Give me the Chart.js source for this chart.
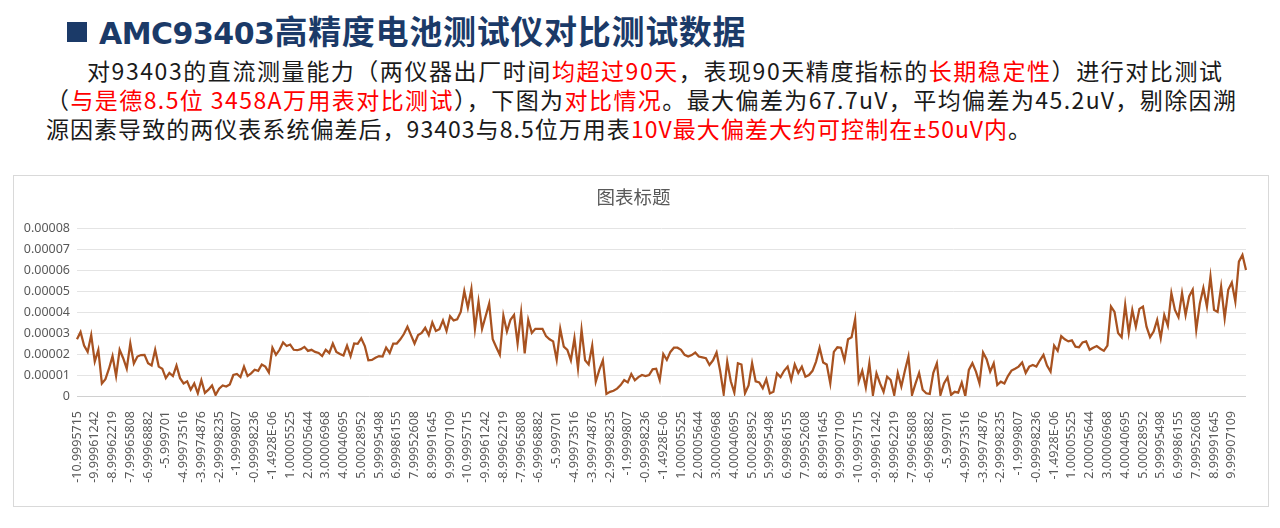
<!DOCTYPE html>
<html>
<head>
<meta charset="utf-8">
<script src="https://cdn.jsdelivr.net/npm/chart.js@4.4.1/dist/chart.umd.min.js"></script>
<style>
  html, body { margin: 0; padding: 0; background: #fff; }
  body { width: 1280px; height: 528px; position: relative; overflow: hidden; font-family: "Noto Sans CJK SC", sans-serif; }
  .bullet { position: absolute; left: 67px; top: 22px; width: 20px; height: 20px; background: #1b3a68; }
  .title { position: absolute; left: 99px; top: 10px; font-weight: bold; color: #1b3a68; line-height: 40px; height: 40px; white-space: nowrap; }
  .title .lat { font-family: "DejaVu Sans", sans-serif; font-size: 30px; letter-spacing: -0.5px; }
  .title .cjk { font-family: "Noto Sans CJK SC", sans-serif; font-size: 33px; letter-spacing: 0.7px; }
  .line { position: absolute; font-size: 23px; line-height: 29px; color: #1a1a1a; white-space: nowrap; }
  .red { color: #ff0000; }
  .pm { font-family: "Noto Sans", sans-serif; }
  #box { position: absolute; left: 13px; top: 175px; width: 1254px; height: 330px; border: 1px solid #d9d9d9; }
</style>
</head>
<body>
<div class="bullet"></div>
<div class="title"><span class="lat">AMC93403</span><span class="cjk">高精度电池测试仪对比测试数据</span></div>
<div class="line" id="l1" style="left:87px; top:56px" data-w="1135">对93403的直流测量能力（两仪器出厂时间<span class="red">均超过90天</span>，表现90天精度指标的<span class="red">长期稳定性</span>）进行对比测试</div>
<div class="line" id="l2" style="left:46px; top:85px" data-w="1190">（<span class="red">与是德8.5位 3458A万用表对比测试</span>），下图为<span class="red">对比情况</span>。最大偏差为67.7uV，平均偏差为45.2uV，剔除因溯</div>
<div class="line" id="l3" style="left:46px; top:114px" data-w="985">源因素导致的两仪表系统偏差后，93403与8.5位万用表<span class="red">10V最大偏差大约可控制在<span class="pm">±</span>50uV内</span>。</div>
<div id="box"><canvas id="chart" width="1254" height="330"></canvas></div>
<script>
// x tick labels, one per 5 readings, repeated for the 3 sweeps
const tickLabels = ['-10.9995715', '-9.99961242', '-8.99962219', '-7.99965808', '-6.99968882', '-5.999701',
  '-4.99973516', '-3.99974876', '-2.99998235', '-1.9999807', '-0.99998236', '-1.4928E-06',
  '1.00005525', '2.00005644', '3.00006968', '4.00040695', '5.00028952', '5.99995498',
  '6.99986155', '7.99952608', '8.99991645', '9.99907109']
const pointsPerLabel = 5

// deviation, in uV
const sweep1 = [
  27, 30.5, 24, 21, 29, 16.4, 22, 6, 8, 13,
  19, 9.5, 22, 18, 13, 25, 15.5, 18.8, 19.5, 19.6,
  15.6, 14.5, 22, 14, 13, 8.5, 11, 9.5, 14.5, 8.5,
  6, 7, 3, 6, 1.3, 7.5, 1.5, 3, 5, 0.5,
  3.5, 5, 4.5, 5.5, 10, 10.5, 9, 14, 9.5, 10.8,
  12.5, 12, 15, 14, 11.2, 23, 19.6, 22, 25.5, 23.8,
  24.5, 22, 21.8, 22.3, 23.4, 21.5, 22, 21, 20.5, 19,
  22, 20.5, 25, 21, 20, 19.3, 24, 19, 25, 24.8,
  27.5, 23.8, 17, 17.2, 18.2, 19, 18.8, 23, 20.5, 25,
  25, 27, 29.5, 33, 29, 25, 29, 30, 32.5, 29,
  35, 31, 31.8, 36, 31, 38, 36, 36.5
]
const sweep2 = [
  40, 50, 42, 51, 32, 45, 32, 38, 44, 27,
  23.2, 19.6, 38.3, 30.7, 36.3, 38.6, 25, 39.8, 20.3, 36.3,
  30, 32, 32, 32, 28.5, 27, 26, 17.2, 32, 23.5,
  22, 17, 27.5, 13.2, 31.5, 17, 15, 24, 6.8, 12.4,
  17, 1, 2, 2.5, 3.5, 5.2, 7.6, 6.5, 10.5, 7.5,
  9, 10, 9.5, 10, 12.7, 13, 7.6, 20, 17.2, 21,
  23, 23, 22, 19.6, 18.8, 19.5, 20.7, 18.8, 18.4, 18,
  14.8, 17, 20.7, 12, 1, 16.4, 7, 1.6, 15.6, 15,
  1.3, 5, 15.6, 7, 6.5, 3.7, 8, 1.2, 2, 10.8,
  9, 12, 14, 7.6, 15, 11, 14, 9.2, 10, 12,
  16.4, 23, 16, 15, 6, 21, 23.2, 23, 17, 27,
  28, 36.6, 7
]
const sweep3 = [
  12, 4, 15.6, 0.5, 10.8, 6, 2, 9.2, 7.6, 0.5,
  11, 4.5, 12, 18.8, 0.5, 6, 11, 3, 1.3, 1,
  11, 15.6, 0.5, 6, 8.9, 0.5, 2, 1.6, 6.4, 0,
  12.4, 15.6, 11.6, 6, 20.7, 17.5, 11.6, 15.6, 5.2, 6.8,
  6, 9.5, 12.1, 13, 14, 16, 11, 14, 14.8, 14,
  17, 19.6, 14.5, 11.6, 24, 21.5, 28.5, 27, 26, 26.5,
  23.5, 23.2, 25.5, 26, 22, 23, 23.8, 22.5, 21.5, 24,
  42.6, 40, 30, 28, 43.4, 30, 41, 33, 41.5, 42.6,
  33, 28, 30.7, 36.2, 27.5, 38.6, 33.5, 49, 41, 37.5,
  49, 38.6, 47.4, 50.6, 31.5, 44, 51.4, 42.6, 56.9, 41,
  40, 52, 37, 50.6, 54, 45, 64, 67.2, 60
]

const deviationUV = sweep1.concat(sweep2, sweep3)
const labels = deviationUV.map((v, i) => i % pointsPerLabel == 0 ? tickLabels[(i / pointsPerLabel) % tickLabels.length] : '')

// stretch the paragraph lines to the widths they have in the slide
for (let id of ['l1', 'l2', 'l3']) {
  let el = document.getElementById(id)
  let n = el.textContent.length
  let natural = el.getBoundingClientRect().width
  el.style.letterSpacing = ((parseFloat(el.dataset.w) - natural) / (n - 1)) + 'px'
}

const axisFont = { family: 'Noto Sans', size: 12.5 }

new Chart(document.getElementById('chart'), {
  type: 'line',
  data: {
    labels: labels,
    datasets: [{
      data: deviationUV.map(v => v / 1e6),
      borderColor: '#a85220',
      borderWidth: 2.25,
      pointRadius: 0,
      tension: 0,
      fill: false
    }]
  },
  options: {
    responsive: false,
    animation: false,
    devicePixelRatio: 1,
    layout: { padding: { left: 0, right: 15, top: 0, bottom: 0 } },
    plugins: {
      legend: { display: false },
      tooltip: { enabled: false },
      title: {
        display: true,
        text: '图表标题',
        color: '#595959',
        font: { family: 'Noto Sans CJK SC', size: 18.5, weight: 'normal' },
        padding: { top: 10, bottom: 19.8 }
      }
    },
    scales: {
      x: {
        grid: { display: false },
        border: { display: false },
        ticks: {
          autoSkip: false,
          maxRotation: 90,
          minRotation: 90,
          padding: 7,
          color: '#595959',
          font: axisFont
        },
        afterFit: s => { s.height = 110 }
      },
      y: {
        min: 0,
        max: 0.00008,
        border: { display: false },
        grid: {
          drawTicks: false,
          color: c => c.tick && c.tick.value == 0 ? '#d0d0d0' : '#e4e4e4'
        },
        ticks: {
          stepSize: 0.00001,
          padding: 7,
          color: '#595959',
          font: axisFont,
          callback: v => v == 0 ? '0' : v.toFixed(5)
        },
        afterFit: s => { s.width = 63 }
      }
    }
  }
})
</script>
</body>
</html>
